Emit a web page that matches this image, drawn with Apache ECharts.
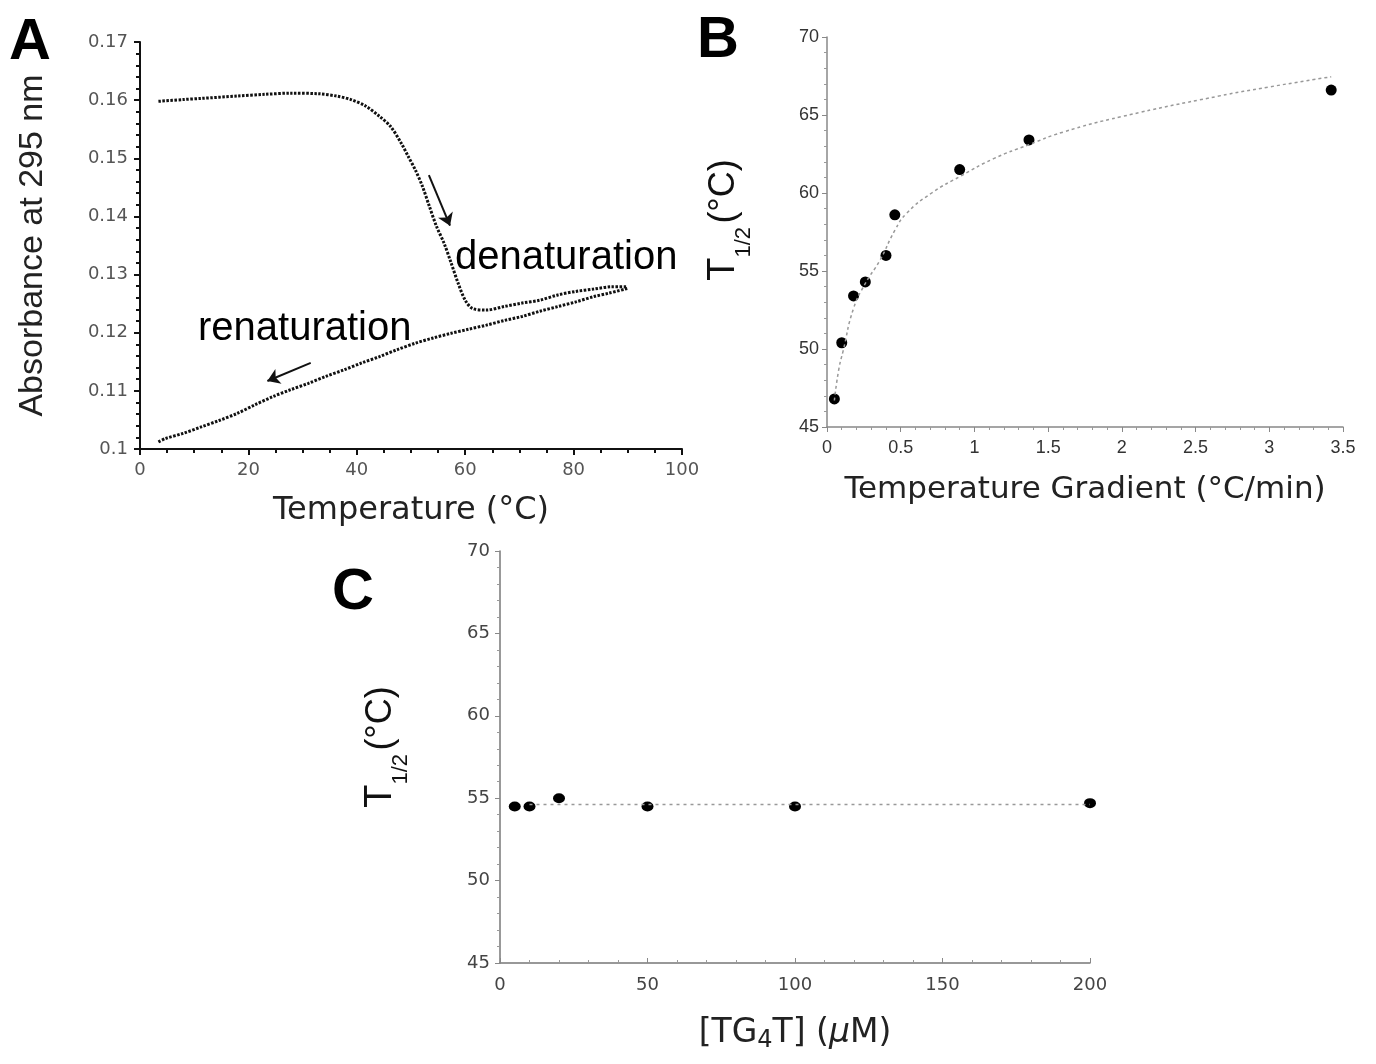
<!DOCTYPE html>
<html>
<head>
<meta charset="utf-8">
<script src="https://cdn.jsdelivr.net/npm/echarts@6/dist/echarts.min.js"></script>
<style>
  html, body { margin: 0; background: #fff; }
  #main { width: 1376px; height: 1064px; }
</style>
</head>
<body>
<div id="main"></div>
<script>
// A: heating run (denaturation), temperature in °C and absorbance at 295 nm
const heatTemp = [3.4, 8, 11.3, 17.9, 23, 27.8, 33.0, 36.3, 38.9, 41.6, 44.2, 46.2, 48.2, 49.5, 50.8, 52.1, 53.4, 54.7, 56.1, 57.4, 58.7, 60.0, 61.3, 63.9, 67.2, 70.5, 73.8, 77.1, 80.4, 83.7, 87.0, 89.9];
const heatAbs = [0.1598, 0.1601, 0.1603, 0.1607, 0.1610, 0.1612, 0.1611, 0.1607, 0.1601, 0.1590, 0.1572, 0.1555, 0.1526, 0.1503, 0.1480, 0.1452, 0.1417, 0.1383, 0.1354, 0.1320, 0.1285, 0.1256, 0.1242, 0.1239, 0.1245, 0.1251, 0.1256, 0.1265, 0.1271, 0.1275, 0.1279, 0.1279];
// A: cooling run (renaturation)
const coolTemp = [89.9, 86.5, 83.7, 80.4, 77.1, 73.8, 70.5, 67.2, 63.9, 60.6, 57.4, 54.1, 50.8, 47.5, 44.2, 40.9, 37.6, 34.3, 31.1, 27.8, 24.5, 21.2, 17.9, 14.6, 11.3, 8.0, 4.7, 3.4];
const coolAbs = [0.1276, 0.1268, 0.1262, 0.1253, 0.1245, 0.1237, 0.1228, 0.1221, 0.1213, 0.1206, 0.1199, 0.1191, 0.1182, 0.1171, 0.1159, 0.1148, 0.1136, 0.1125, 0.1113, 0.1102, 0.1090, 0.1076, 0.1061, 0.1049, 0.1038, 0.1027, 0.1018, 0.1012];
// arrows drawn beside the curves [T, A]
const denatArrow = [[53.3, 0.1471], [57.2, 0.1384]];
const renatArrow = [[31.5, 0.1148], [23.5, 0.1117]];

// B: T1/2 against heating rate
const gradRate = [0.05, 0.10, 0.18, 0.26, 0.40, 0.46, 0.90, 1.37, 3.42];
const gradT = [46.8, 50.4, 53.4, 54.3, 56.0, 58.6, 61.5, 63.4, 66.6];
const fitRate = [0.05, 0.08, 0.11, 0.18, 0.26, 0.36, 0.46, 0.54, 0.71, 0.91, 1.13, 1.37, 1.6, 2.0, 2.65, 3.0, 3.42];
const fitT = [46.7, 48.7, 49.9, 52.6, 54.2, 55.7, 57.6, 58.7, 60.0, 61.1, 62.2, 63.1, 63.9, 64.9, 66.2, 66.8, 67.45];

// C: T1/2 against strand concentration
const concVals = [5, 10, 20, 50, 100, 200];
const concT = [54.5, 54.5, 55.0, 54.5, 54.5, 54.7];
const meanX = [10, 200];
const meanT = [54.62, 54.62];

const zip = (a, b) => a.map((v, i) => [v, b[i]]);

const chart = echarts.init(document.getElementById("main"));

const tickFont = "DejaVu Sans";

// T1/2 (°C) axis title with a subscript
const thalfName = "{t|T}{s|1/2} {u|(°C)}";
const thalfRich = {
  t: { fontSize: 38, lineHeight: 62, fontFamily: "Liberation Sans", color: "#111" },
  s: { fontSize: 22, lineHeight: 22, verticalAlign: "bottom", fontFamily: "Liberation Sans", color: "#111" },
  u: { fontSize: 36, lineHeight: 62, fontFamily: "Liberation Sans", color: "#111" },
};

const option = {
  animation: false,
  backgroundColor: "#fff",
  grid: [
    { left: 140, right: 694, top: 42, bottom: 615 },
    { left: 827, right: 33, top: 37, bottom: 637 },
    { left: 500, right: 286, top: 551, bottom: 101 },
  ],
  xAxis: [
    {
      gridIndex: 0,
      type: "value",
      min: 0,
      max: 100,
      interval: 20,
      axisLine: { lineStyle: { color: "#111", width: 2 } },
      axisTick: { length: 6, lineStyle: { color: "#111", width: 2 } },
      minorTick: { show: true, splitNumber: 4, length: 4, lineStyle: { color: "#111", width: 2 } },
      splitLine: { show: false },
      axisLabel: { fontSize: 18, color: "#555", margin: 12, fontFamily: tickFont },
      name: "Temperature (°C)",
      nameLocation: "middle",
      nameGap: 46,
      nameTextStyle: { fontSize: 32, color: "#222", fontFamily: tickFont },
    },
    {
      gridIndex: 1,
      type: "value",
      min: 0,
      max: 3.5,
      interval: 0.5,
      axisLine: { lineStyle: { color: "#888", width: 1.5 } },
      axisTick: { length: 5, lineStyle: { color: "#888" } },
      minorTick: { show: true, splitNumber: 5, length: 3, lineStyle: { color: "#999" } },
      splitLine: { show: false },
      axisLabel: { fontSize: 18, color: "#333", margin: 12, fontFamily: "Liberation Sans" },
      name: "Temperature Gradient (°C/min)",
      nameLocation: "middle",
      nameGap: 47,
      nameTextStyle: { fontSize: 31, color: "#222", fontFamily: tickFont },
    },
    {
      gridIndex: 2,
      type: "value",
      min: 0,
      max: 200,
      interval: 50,
      axisLine: { lineStyle: { color: "#777", width: 1.5 } },
      axisTick: { inside: true, length: 5, lineStyle: { color: "#888" } },
      minorTick: { show: true, splitNumber: 5, length: 3, lineStyle: { color: "#999" } },
      splitLine: { show: false },
      axisLabel: { fontSize: 18, color: "#444", margin: 13, fontFamily: tickFont },
      name: "{a|[TG}{s|4}{a|T] (}{i|μ}{a|M)}",
      nameLocation: "middle",
      nameGap: 54,
      nameTextStyle: {
        fontSize: 33,
        color: "#222",
        fontFamily: tickFont,
        rich: {
          a: { fontSize: 33, lineHeight: 36, verticalAlign: "top", fontFamily: tickFont, color: "#222" },
          s: { fontSize: 24, lineHeight: 24, verticalAlign: "bottom", fontFamily: tickFont, color: "#222", padding: [22, 0, 0, 0] },
          i: { fontSize: 33, lineHeight: 36, verticalAlign: "top", fontStyle: "italic", fontFamily: tickFont, color: "#222" },
        },
      },
    },
  ],
  yAxis: [
    {
      gridIndex: 0,
      type: "value",
      min: 0.1,
      max: 0.17,
      interval: 0.01,
      axisLine: { show: true, lineStyle: { color: "#111", width: 2 } },
      axisTick: { show: true, length: 6, lineStyle: { color: "#111", width: 2 } },
      minorTick: { show: true, splitNumber: 5, length: 4, lineStyle: { color: "#111", width: 2 } },
      splitLine: { show: false },
      axisLabel: { fontSize: 18, color: "#555", margin: 12, fontFamily: tickFont },
      name: "Absorbance at 295 nm",
      nameLocation: "middle",
      nameGap: 90,
      nameTextStyle: { fontSize: 34, color: "#222", fontFamily: "Liberation Sans" },
    },
    {
      gridIndex: 1,
      type: "value",
      min: 45,
      max: 70,
      interval: 5,
      axisLine: { show: true, lineStyle: { color: "#888", width: 1.5 } },
      axisTick: { show: true, length: 5, lineStyle: { color: "#888" } },
      minorTick: { show: true, splitNumber: 5, length: 3, lineStyle: { color: "#999" } },
      splitLine: { show: false },
      axisLabel: { fontSize: 18, color: "#333", margin: 8, fontFamily: "Liberation Sans" },
      name: thalfName,
      nameLocation: "middle",
      nameGap: 72,
      nameTextStyle: { rich: thalfRich, padding: [0, 0, 0, 24] },
    },
    {
      gridIndex: 2,
      type: "value",
      min: 45,
      max: 70,
      interval: 5,
      axisLine: { show: true, lineStyle: { color: "#777", width: 1.5 } },
      axisTick: { show: true, length: 5, lineStyle: { color: "#888" } },
      minorTick: { show: true, splitNumber: 5, length: 3, lineStyle: { color: "#999" } },
      splitLine: { show: false },
      axisLabel: { fontSize: 18, color: "#444", margin: 10, fontFamily: tickFont },
      name: thalfName,
      nameLocation: "middle",
      nameGap: 88,
      nameTextStyle: { rich: thalfRich, padding: [0, 0, 0, 20] },
    },
  ],
  series: [
    {
      name: "denaturation",
      type: "line",
      xAxisIndex: 0,
      yAxisIndex: 0,
      data: zip(heatTemp, heatAbs),
      smooth: 0.3,
      showSymbol: false,
      lineStyle: { color: "#111", width: 3, type: [2.5, 1.5] },
      markLine: {
        silent: true,
        symbol: ["none", "arrow"],
        symbolSize: 12,
        label: { show: false },
        lineStyle: { color: "#111", width: 2, type: "solid" },
        data: [
          [{ coord: denatArrow[0] }, { coord: denatArrow[1] }],
          [{ coord: renatArrow[0] }, { coord: renatArrow[1] }],
        ],
      },
    },
    {
      name: "renaturation",
      type: "line",
      xAxisIndex: 0,
      yAxisIndex: 0,
      data: zip(coolTemp, coolAbs),
      smooth: 0.3,
      showSymbol: false,
      lineStyle: { color: "#111", width: 3, type: [2.5, 1.5] },
    },
    {
      name: "fit",
      type: "line",
      xAxisIndex: 1,
      yAxisIndex: 1,
      data: zip(fitRate, fitT),
      smooth: true,
      showSymbol: false,
      lineStyle: { color: "#999", width: 1.5, type: [3, 3] },
    },
    {
      name: "rate",
      type: "scatter",
      xAxisIndex: 1,
      yAxisIndex: 1,
      data: zip(gradRate, gradT),
      symbolSize: 11,
      itemStyle: { color: "#000", opacity: 1 },
    },
    {
      name: "mean",
      type: "line",
      xAxisIndex: 2,
      yAxisIndex: 2,
      data: zip(meanX, meanT),
      showSymbol: false,
      lineStyle: { color: "#999", width: 1.5, type: [3, 4] },
    },
    {
      name: "conc",
      type: "scatter",
      xAxisIndex: 2,
      yAxisIndex: 2,
      data: zip(concVals, concT),
      symbolSize: [12, 10],
      itemStyle: { color: "#000", opacity: 1 },
    },
  ],
  graphic: [
    { type: "text", left: 9, top: 14, style: { text: "A", fontSize: 58, fontWeight: "bold", fontFamily: "Liberation Sans", fill: "#000" } },
    { type: "text", left: 697, top: 12, style: { text: "B", fontSize: 58, fontWeight: "bold", fontFamily: "Liberation Sans", fill: "#000" } },
    { type: "text", left: 332, top: 564, style: { text: "C", fontSize: 58, fontWeight: "bold", fontFamily: "Liberation Sans", fill: "#000" } },
    { type: "text", left: 455, top: 238, style: { text: "denaturation", fontSize: 40, fontFamily: "Liberation Sans", fill: "#000" } },
    { type: "text", left: 198, top: 309, style: { text: "renaturation", fontSize: 40, fontFamily: "Liberation Sans", fill: "#000" } },
  ],
};

chart.setOption(option);
</script>
</body>
</html>
